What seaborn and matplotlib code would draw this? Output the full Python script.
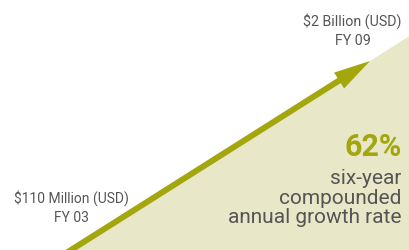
import matplotlib
matplotlib.use("Agg")
import matplotlib.pyplot as plt
import seaborn as sns
import pandas as pd
from matplotlib.patches import FancyArrowPatch

years = [2003, 2009]
values = [110, 2000]
point_labels = ["$110 Million (USD)\nFY 03", "$2 Billion (USD)\nFY 09"]
cagr_value = "62%"
cagr_text = "six-year\ncompounded\nannual growth rate"

olive = "#a3a60d"
beige = "#e8e8c8"
grey = "#555555"

sns.set_theme(style="white")
plt.rcParams["font.family"] = ["Roboto", "DejaVu Sans"]

fig = plt.figure(figsize=(4.09, 2.5), dpi=100)
ax = fig.add_axes([0, 0, 1, 1])
xlim = (2001.575, 2009.783)
ylim = (110, 2610)
ax.set_xlim(*xlim)
ax.set_ylim(*ylim)
ax.axis("off")

df = pd.DataFrame({"year": years, "value": values})
slope = (df.value[1] - df.value[0]) / (df.year[1] - df.year[0])

# fill under the growth line extended to right edge
x_edge = xlim[1]
y_edge = values[0] + slope * (x_edge - years[0])
ax.fill([years[0], x_edge, x_edge], [values[0], y_edge, ylim[0]],
        color=beige, lw=0, zorder=1)

# arrow shaft and head along the growth line
ext = 300
start = (years[0] - ext / slope, values[0] - ext)
arr = FancyArrowPatch(start, (years[1], values[1]),
                      arrowstyle="simple,head_length=2.63,head_width=1.35,tail_width=0.43",
                      mutation_scale=10, color=olive, lw=0, zorder=3,
                      shrinkA=0, shrinkB=0, clip_on=True)
ax.add_patch(arr)

ax.text(years[0], 535, point_labels[0], ha="center", va="center",
        fontsize=10, color=grey, linespacing=1.5)
ax.text(2008.65, 2305, point_labels[1], ha="center", va="center",
        fontsize=10.3, color=grey, linespacing=1.45)

ax.text(2009.63, 1140, cagr_value, ha="right", va="center",
        fontsize=22, fontweight="bold", color=olive)
ax.text(2009.63, 630, cagr_text, ha="right", va="center",
        fontsize=15, color=grey, linespacing=1.02)

fig.savefig("out.png", dpi=100)
